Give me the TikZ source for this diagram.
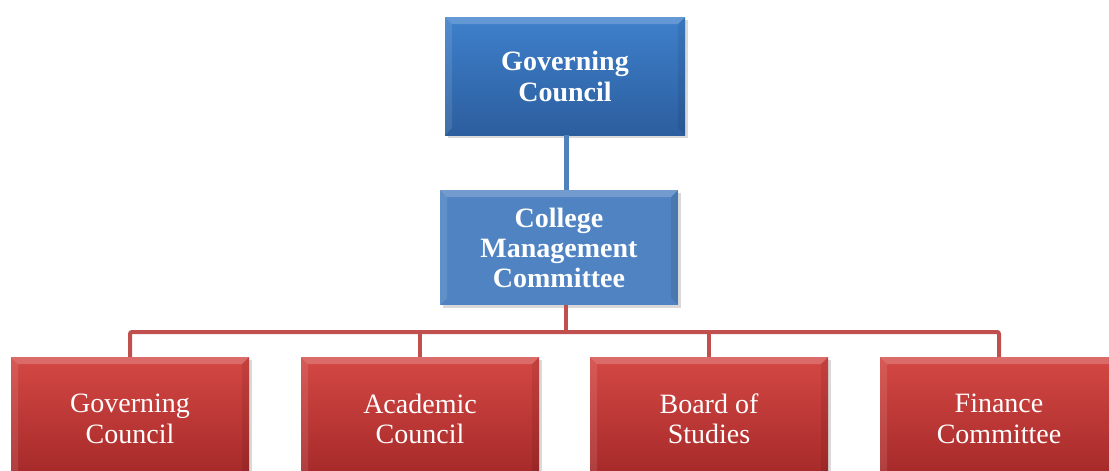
\documentclass[tikz,border=0pt]{standalone}
\usepackage{fontspec}
\setmainfont{Liberation Serif}
\usetikzlibrary{shadows}

\definecolor{bluetop}{RGB}{62,128,204}
\definecolor{bluebot}{RGB}{44,94,158}
\definecolor{bluemid}{RGB}{80,131,193}
\definecolor{redtop}{RGB}{212,72,68}
\definecolor{redbot}{RGB}{163,40,40}
\definecolor{blueline}{RGB}{79,129,189}
\definecolor{redline}{RGB}{192,80,77}

\tikzset{
    bevel/.style={path picture={
        \fill[white, opacity=0.2]
            (path picture bounding box.north west)
            -- (path picture bounding box.north east)
            -- ([xshift=-7pt, yshift=-7pt]path picture bounding box.north east)
            -- ([xshift=7pt, yshift=-7pt]path picture bounding box.north west)
            -- cycle;
        \fill[white, opacity=0.1]
            (path picture bounding box.north west)
            -- ([xshift=7pt, yshift=-7pt]path picture bounding box.north west)
            -- ([xshift=7pt, yshift=7pt]path picture bounding box.south west)
            -- (path picture bounding box.south west)
            -- cycle;
        \fill[black, opacity=0.08]
            (path picture bounding box.north east)
            -- ([xshift=-7pt, yshift=-7pt]path picture bounding box.north east)
            -- ([xshift=-7pt, yshift=7pt]path picture bounding box.south east)
            -- (path picture bounding box.south east)
            -- cycle;
    }},
    unitbox/.style={bevel, text=white, align=center, inner sep=0pt,
        font=\fontsize{28}{30.5}\selectfont,
        drop shadow={opacity=0.3, shadow xshift=3pt, shadow yshift=-3pt}},
    headbox/.style={unitbox, top color=bluetop, bottom color=bluebot,
        font=\fontsize{28}{31}\selectfont\bfseries},
    mgmtbox/.style={unitbox, fill=bluemid,
        font=\fontsize{28}{30}\selectfont\bfseries},
    bodybox/.style={unitbox, top color=redtop, bottom color=redbot},
    trunk/.style={blueline, line width=5pt},
    branch/.style={redline, line width=4pt, rounded corners=2pt}
}

\begin{document}
\begin{tikzpicture}[x=1pt, y=-1pt]
    \useasboundingbox (0,0) rectangle (1109,471);
    \clip (0,0) rectangle (1109,471);

    % Connector points
    \coordinate (bus) at (566,332);

    % Top levels
    \node[headbox, minimum width=240pt, minimum height=118pt] (gov) at (565,76)
        {Governing\\Council};
    \node[mgmtbox, minimum width=238pt, minimum height=115pt] (cmc) at (559,247.5)
        {College\\Management\\Committee};

    % Bodies
    \node[bodybox, minimum width=238pt, minimum height=124pt] (gc) at (130,419)
        {Governing\\Council};
    \node[bodybox, minimum width=238pt, minimum height=124pt] (ac) at (420,419)
        {Academic\\Council};
    \node[bodybox, minimum width=238pt, minimum height=124pt] (bs) at (709,419)
        {Board of\\Studies};
    \node[bodybox, minimum width=238pt, minimum height=124pt] (fc) at (999,419)
        {Finance\\Committee};

    % Connectors
    \draw[trunk] (bus |- gov.south) -- (bus |- cmc.north);
    \draw[branch] (bus |- cmc.south) -- (bus);
    \draw[branch] (gc.north) -- (gc.north |- bus) -- (fc.north |- bus) -- (fc.north);
    \draw[branch] (ac.north) -- (ac.north |- bus);
    \draw[branch] (bs.north) -- (bs.north |- bus);
\end{tikzpicture}
\end{document}
